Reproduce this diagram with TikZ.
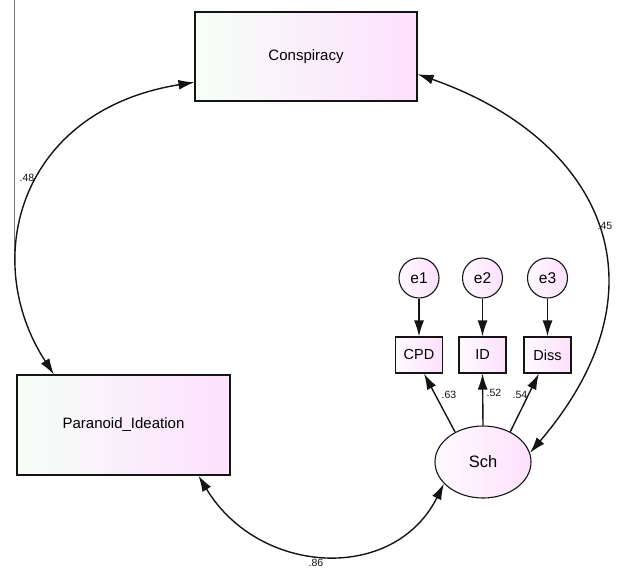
\documentclass[tikz,border=0pt]{standalone}
\usepackage{fontspec}
\setmainfont{Liberation Sans}
\usetikzlibrary{arrows.meta,shapes.geometric}
\definecolor{lgreen}{RGB}{246,255,248}
\definecolor{lpink}{RGB}{253,224,253}
\definecolor{lmid}{RGB}{255,250,255}
\definecolor{ink}{RGB}{20,20,20}
\tikzset{
  shadeit/.style={left color=lgreen, middle color=lmid, right color=lpink},
  obsbox/.style={draw=ink, line width=1.1pt, shadeit, inner sep=0pt, font=\fontsize{15}{17}\selectfont},
  indbox/.style={draw=ink, line width=1.1pt, left color=lmid, right color=lpink, minimum width=47pt, minimum height=36pt, inner sep=0pt, font=\fontsize{14.5}{16}\selectfont},
  errc/.style={circle, draw=ink, line width=1.1pt, left color=lmid, right color=lpink, minimum size=40pt, inner sep=0pt, font=\fontsize{15.5}{17}\selectfont},
  latent/.style={ellipse, draw=ink, line width=1.1pt, left color=lmid, right color=lpink, minimum width=96pt, minimum height=72pt, inner sep=0pt, font=\fontsize{16.5}{18}\selectfont},
  conn/.style={line width=1.4pt, ink, -{Latex[length=16pt,width=10pt]}},
  cov/.style={line width=1.4pt, ink, {Latex[length=16pt,width=10pt]}-{Latex[length=16pt,width=10pt]}},
  coef/.style={inner sep=0pt, text=ink, font=\fontsize{10.5}{12}\selectfont}
}
\begin{document}
\begin{tikzpicture}[x=1pt,y=-1pt]
\useasboundingbox (0,0) rectangle (617,573);
\draw[black!55, line width=1.2pt] (14.5,0) -- (14.5,265);
\node[obsbox, minimum width=222pt, minimum height=89pt] (con) at (306,56.5) {Conspiracy};
\node[obsbox, minimum width=213pt, minimum height=100pt] (par) at (123.5,425) {Paranoid\_Ideation};
\node[errc] (e1) at (419,278) {e1};
\node[errc] (e2) at (482.5,278) {e2};
\node[errc] (e3) at (547.5,278) {e3};
\node[indbox] (cpd) at (419,355) {CPD};
\node[indbox] (id) at (482.5,355) {ID};
\node[indbox] (diss) at (547.5,355) {Diss};
\node[latent] (sch) at (483,462) {Sch};
\draw[conn] (e1) -- (cpd);
\draw[conn] (e2) -- (id);
\draw[conn] (e3) -- (diss);
\draw[conn] (sch.133) -- (cpd.285);
\draw[conn] (sch.north) -- (id.south);
\draw[conn] (sch.48) -- (diss.245);
\draw[cov] (con.193) .. controls +(-175,28) and +(-75,-115) .. (par.144);
\draw[cov] (con.351.5) .. controls +(180,63) and +(145,-170) .. (sch.11);
\draw[cov] (par.326) .. controls +(60,100) and +(-50,100) .. (sch.209);
\node[coef] (l48) at (27,178) {.48};
\node[coef] (l45) at (605,226) {.45};
\node[coef] (l86) at (316,563) {.86};
\node[coef] (l63) at (449,395) {.63};
\node[coef] (l52) at (494,393) {.52};
\node[coef] (l54) at (520,395) {.54};
\end{tikzpicture}
\end{document}
